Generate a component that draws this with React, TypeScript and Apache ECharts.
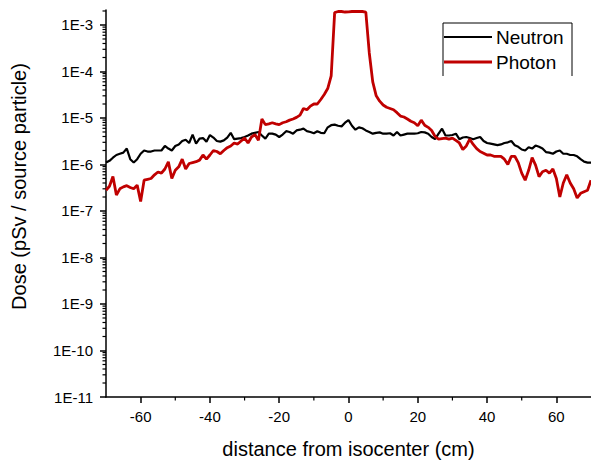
import React, { useEffect, useRef } from "react";
import * as echarts from "echarts";

const distance = [
  -70, -69, -68, -67, -66, -65, -64, -63, -62, -61, -60, -59, -58, -57, -56, -55, -54, -53, -52, -51,
  -50, -49, -48, -47, -46, -45, -44, -43, -42, -41, -40, -39, -38, -37, -36, -35, -34, -33, -32, -31,
  -30, -29, -28, -27, -26, -25, -24, -23, -22, -21, -20, -19, -18, -17, -16, -15, -14, -13, -12, -11,
  -10, -9, -8, -7, -6, -5, -4, -3, -2, -1, 0, 1, 2, 3, 4, 5, 6, 7, 8, 9,
  10, 11, 12, 13, 14, 15, 16, 17, 18, 19, 20, 21, 22, 23, 24, 25, 26, 27, 28, 29,
  30, 31, 32, 33, 34, 35, 36, 37, 38, 39, 40, 41, 42, 43, 44, 45, 46, 47, 48, 49,
  50, 51, 52, 53, 54, 55, 56, 57, 58, 59, 60, 61, 62, 63, 64, 65, 66, 67, 68, 69, 70,
];

const neutron = [
  1.1e-6, 1.2e-6, 1.4e-6, 1.6e-6, 1.7e-6, 1.8e-6, 2.2e-6, 1.3e-6, 1.1e-6, 1.3e-6,
  1.7e-6, 2.0e-6, 1.9e-6, 1.9e-6, 2.0e-6, 2.0e-6, 2.0e-6, 2.5e-6, 2.2e-6, 2.0e-6,
  2.5e-6, 2.7e-6, 3.2e-6, 3.4e-6, 2.9e-6, 4.4e-6, 2.8e-6, 3.6e-6, 3.7e-6, 3.1e-6,
  4.3e-6, 3.8e-6, 3.2e-6, 3.1e-6, 3.3e-6, 3.8e-6, 4.8e-6, 3.5e-6, 3.6e-6, 3.7e-6,
  3.9e-6, 4.2e-6, 4.6e-6, 4.8e-6, 5.0e-6, 4.2e-6, 3.6e-6, 4.6e-6, 4.6e-6, 4.4e-6,
  3.9e-6, 4.4e-6, 5.2e-6, 5.0e-6, 4.6e-6, 5.4e-6, 5.6e-6, 5.9e-6, 5.2e-6, 5.0e-6,
  4.7e-6, 5.2e-6, 4.8e-6, 4.7e-6, 6.3e-6, 7.0e-6, 7.2e-6, 6.8e-6, 6.6e-6, 7.9e-6,
  9.0e-6, 6.8e-6, 5.6e-6, 6.3e-6, 6.0e-6, 5.4e-6, 5.0e-6, 4.6e-6, 4.8e-6, 4.9e-6,
  4.6e-6, 4.6e-6, 4.7e-6, 4.2e-6, 5.0e-6, 4.2e-6, 4.4e-6, 4.6e-6, 4.6e-6, 4.6e-6,
  4.7e-6, 5.0e-6, 4.9e-6, 4.6e-6, 3.9e-6, 3.5e-6, 4.6e-6, 5.9e-6, 4.2e-6, 4.2e-6,
  4.3e-6, 4.6e-6, 3.5e-6, 3.8e-6, 3.9e-6, 3.7e-6, 3.5e-6, 3.7e-6, 3.9e-6, 3.2e-6,
  2.9e-6, 2.8e-6, 2.7e-6, 2.6e-6, 2.7e-6, 2.9e-6, 3.0e-6, 3.2e-6, 2.6e-6, 2.4e-6,
  2.1e-6, 2.0e-6, 2.35e-6, 2.2e-6, 2.55e-6, 2.4e-6, 2.2e-6, 1.85e-6, 1.8e-6, 1.7e-6,
  1.9e-6, 2.0e-6, 1.7e-6, 1.7e-6, 1.6e-6, 1.6e-6, 1.5e-6, 1.3e-6, 1.15e-6, 1.1e-6, 1.1e-6,
];

const photon = [
  2.8e-7, 3.4e-7, 5.5e-7, 2.2e-7, 3.0e-7, 3.3e-7, 3.5e-7, 3.2e-7, 3.0e-7, 3.6e-7,
  1.6e-7, 4.6e-7, 4.8e-7, 5.0e-7, 6.0e-7, 6.9e-7, 6.5e-7, 8.0e-7, 1.14e-6, 5.0e-7,
  7.5e-7, 8.9e-7, 1.3e-6, 8.0e-7, 1.05e-6, 1.1e-6, 1.15e-6, 1.24e-6, 1.6e-6, 1.3e-6,
  1.6e-6, 2.0e-6, 1.9e-6, 1.7e-6, 2.0e-6, 2.3e-6, 2.5e-6, 2.9e-6, 2.75e-6, 3.2e-6,
  3.7e-6, 2.9e-6, 3.9e-6, 4.4e-6, 3.3e-6, 9.5e-6, 7.2e-6, 7.5e-6, 7.9e-6, 7.5e-6,
  7.2e-6, 7.9e-6, 8.3e-6, 9.0e-6, 9.5e-6, 1.03e-5, 1.15e-5, 1.6e-5, 1.5e-5, 1.8e-5,
  2.0e-5, 2.0e-5, 2.5e-5, 3.2e-5, 4.3e-5, 8.0e-5, 1.85e-3, 1.95e-3, 1.95e-3, 1.9e-3,
  1.92e-3, 1.95e-3, 1.95e-3, 1.95e-3, 1.95e-3, 1.9e-3, 2.5e-4, 6.0e-5, 3.0e-5, 2.3e-5,
  1.9e-5, 1.7e-5, 1.6e-5, 1.5e-5, 1.3e-5, 1.1e-5, 1.05e-5, 9.5e-6, 8.5e-6, 7.9e-6,
  6.8e-6, 9.0e-6, 7.0e-6, 6.3e-6, 5.4e-6, 4.0e-6, 3.5e-6, 3.6e-6, 3.7e-6, 3.5e-6,
  3.7e-6, 3.3e-6, 2.9e-6, 2.1e-6, 2.5e-6, 3.5e-6, 2.7e-6, 2.2e-6, 1.9e-6, 1.75e-6,
  1.6e-6, 1.6e-6, 1.5e-6, 1.5e-6, 1.5e-6, 1.3e-6, 1.0e-6, 1.5e-6, 1.5e-6, 1.1e-6,
  6.5e-7, 4.6e-7, 7.5e-7, 1.4e-6, 9.7e-7, 5.5e-7, 7.0e-7, 7.5e-7, 6.5e-7, 8.0e-7,
  5.0e-7, 2.0e-7, 4.0e-7, 6.0e-7, 4.0e-7, 3.0e-7, 1.9e-7, 2.4e-7, 2.6e-7, 2.8e-7, 4.6e-7,
];

const seriesNames = ["Neutron", "Photon"];
const seriesColors = ["#000000", "#c00000"];
const seriesWidths = [2.2, 2.8];
const yMajorTicks = [1e-11, 1e-10, 1e-9, 1e-8, 1e-7, 1e-6, 1e-5, 1e-4, 1e-3];
const yMinorFactors = [2, 3, 4, 5, 6, 7, 8, 9];
const xMajorTicks = [-60, -40, -20, 0, 20, 40, 60];
const xMinorTicks = [-50, -30, -10, 10, 30, 50];

const FONT = "'Liberation Sans', Arial, sans-serif";

export default function App() {
  const ref = useRef<HTMLDivElement>(null);

  useEffect(() => {
    if (!ref.current) return;
    const chart = echarts.init(ref.current, undefined, { renderer: "svg" });

    const xMin = -70;
    const xMax = 70;
    const yMin = 1e-11;
    const yMax = 2.1e-3;
    const yMinor: number[] = [];
    yMajorTicks.forEach((m) => {
      yMinorFactors.forEach((f) => {
        const v = m * f;
        if (v <= yMax) yMinor.push(v);
      });
    });

    const axisColor = "#000";

    // legend drawn as graphic elements (box open at the bottom, as in the reference)
    const legendLeft = 444;
    const legendTop = 37;
    const legendRow = 25;
    const legendItems: any[] = [];
    seriesNames.forEach((name, i) => {
      const y = legendTop + i * legendRow;
      legendItems.push({
        type: "line",
        shape: { x1: legendLeft, y1: y, x2: legendLeft + 48, y2: y },
        style: { stroke: seriesColors[i], lineWidth: seriesWidths[i] },
        silent: true,
      });
      legendItems.push({
        type: "text",
        x: legendLeft + 52,
        y,
        style: {
          text: name,
          fill: "#000",
          font: `19px ${FONT}`,
          verticalAlign: "middle",
          align: "left",
        },
        silent: true,
      });
    });

    const minorTickSeries = (
      data: number[][],
      dir: "x" | "y"
    ) => ({
      type: "custom",
      xAxisIndex: 0,
      yAxisIndex: 0,
      silent: true,
      clip: false,
      z: 1,
      data,
      renderItem: (_params: any, api: any) => {
        const p = api.coord([api.value(0), api.value(1)]);
        const shape =
          dir === "y"
            ? { x1: p[0] - 3.5, y1: p[1], x2: p[0], y2: p[1] }
            : { x1: p[0], y1: p[1], x2: p[0], y2: p[1] + 3.5 };
        return { type: "line", shape, style: { stroke: axisColor, lineWidth: 1.2 } };
      },
    });

    chart.setOption({
      animation: false,
      backgroundColor: "#fff",
      grid: { left: 106, right: 0, top: 10, bottom: 64 },
      graphic: [
        {
          type: "polyline",
          shape: { points: [[443, 76], [443, 23], [572, 23], [572, 76]] },
          style: { stroke: "#000", lineWidth: 1, fill: "none" },
          silent: true,
        },
        ...legendItems,
      ],
      xAxis: {
        type: "value",
        min: xMin,
        max: xMax,
        position: "bottom",
        name: "distance from isocenter (cm)",
        nameLocation: "middle",
        nameGap: 42,
        nameTextStyle: { fontSize: 20, color: "#000", fontFamily: FONT },
        axisLine: { show: true, onZero: false, lineStyle: { color: axisColor, width: 1.5 } },
        axisTick: { show: true, customValues: xMajorTicks, length: 6, lineStyle: { color: axisColor, width: 1.5 } },
        axisLabel: { customValues: xMajorTicks, margin: 12, fontSize: 15, color: "#000", fontFamily: FONT },
        splitLine: { show: false },
      },
      yAxis: {
        type: "log",
        logBase: 10,
        min: yMin,
        max: yMax,
        position: "left",
        name: "Dose (pSv / source particle)",
        nameLocation: "middle",
        nameGap: 77,
        nameTextStyle: { fontSize: 20, color: "#000", fontFamily: FONT, padding: [0, 0, 0, 34] },
        axisLine: { show: true, onZero: false, lineStyle: { color: axisColor, width: 1.5 } },
        axisTick: { show: true, customValues: yMajorTicks, length: 6, lineStyle: { color: axisColor, width: 1.5 } },
        axisLabel: {
          customValues: yMajorTicks,
          margin: 13,
          fontSize: 15,
          color: "#000",
          fontFamily: FONT,
          formatter: (v: number) => "1E" + Math.round(Math.log10(v)),
        },
        splitLine: { show: false },
      },
      series: [
        ...seriesNames.map((name, i) => ({
          name,
          type: "line",
          xAxisIndex: 0,
          yAxisIndex: 0,
          data: distance.map((d, j) => [d, (i === 0 ? neutron : photon)[j]]),
          showSymbol: false,
          symbol: "none",
          lineStyle: { color: seriesColors[i], width: seriesWidths[i] },
          itemStyle: { color: seriesColors[i] },
          z: 2 + i,
        })),
        minorTickSeries(yMinor.map((v) => [xMin, v]), "y"),
        minorTickSeries(xMinorTicks.map((x) => [x, yMin]), "x"),
      ],
    });

    return () => chart.dispose();
  }, []);

  return (
    <div
      ref={ref}
      style={{ position: "fixed", left: 0, top: 0, width: 591, height: 464 }}
    />
  );
}
